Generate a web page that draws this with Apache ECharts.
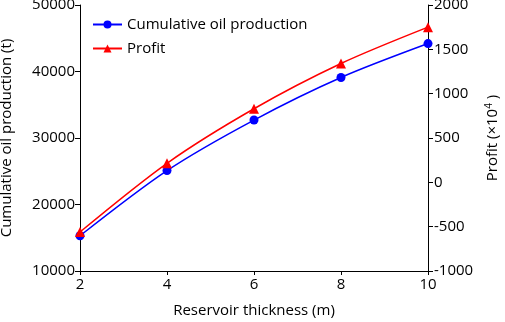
<!DOCTYPE html>
<html>
<head>
<meta charset="utf-8">
<script src="https://cdn.jsdelivr.net/npm/echarts@6/dist/echarts.min.js"></script>
<style>
  html, body { margin: 0; padding: 0; background: #fff; }
  #my-charts { width: 505px; height: 322px; }
</style>
</head>
<body>
<div id="my-charts"></div>
<script>
// data
var thickness = [2, 4, 6, 8, 10]
var oilProduction = [15300, 25100, 32700, 39100, 44200]
var profit = [-560, 215, 830, 1340, 1750]

var fontFamily = 'Open Sans'
var textColor = '#000'

// plain numbers, no thousands separator
var plain = function (v) { return String(v) }

var myChart = echarts.init(document.getElementById('my-charts'))

var option = {
  backgroundColor: '#fff',
  animation: false,
  textStyle: { fontFamily: fontFamily, color: textColor },
  grid: {
    left: 80,
    right: 77,
    top: 5,
    bottom: 51,
    outerBoundsMode: 'none',
    containLabel: false
  },
  legend: {
    orient: 'vertical',
    left: 87,
    top: 12,
    itemWidth: 29,
    itemHeight: 10,
    itemGap: 9,
    textStyle: { fontSize: 15, fontFamily: fontFamily, color: textColor },
    data: ['Cumulative oil production', 'Profit']
  },
  xAxis: {
    type: 'value',
    min: 2,
    max: 10,
    interval: 2,
    name: 'Reservoir thickness (m)',
    nameLocation: 'middle',
    nameGap: 32,
    nameTextStyle: { fontSize: 15, color: textColor },
    axisLine: { onZero: false, lineStyle: { color: '#000', width: 1 } },
    axisTick: { length: 4, lineStyle: { color: '#000' } },
    axisLabel: { fontSize: 15, color: textColor, margin: 6, formatter: plain },
    splitLine: { show: false }
  },
  yAxis: [
    {
      type: 'value',
      position: 'left',
      min: 10000,
      max: 50000,
      interval: 10000,
      name: 'Cumulative oil production (t)',
      nameLocation: 'middle',
      nameGap: 66,
      nameTextStyle: { fontSize: 15, color: textColor },
      axisLine: { show: true, onZero: false, lineStyle: { color: '#000', width: 1 } },
      axisTick: { show: true, length: 5, lineStyle: { color: '#000' } },
      axisLabel: { fontSize: 15, color: textColor, margin: 5, formatter: plain },
      splitLine: { show: false }
    },
    {
      type: 'value',
      position: 'right',
      min: -1000,
      max: 2000,
      interval: 500,
      name: 'Profit (×10{sup|4} )',
      nameLocation: 'middle',
      nameGap: 56,
      nameRotate: 90,
      nameTextStyle: {
        fontSize: 15,
        color: textColor,
        rich: {
          sup: { fontSize: 10, verticalAlign: 'top', padding: [0, 0, 8, 0], color: textColor }
        }
      },
      axisLine: { show: true, onZero: false, lineStyle: { color: '#000', width: 1 } },
      axisTick: { show: true, length: 5, lineStyle: { color: '#000' } },
      axisLabel: { fontSize: 15, color: textColor, margin: 6, formatter: plain },
      splitLine: { show: false }
    }
  ],
  series: [
    {
      name: 'Cumulative oil production',
      type: 'line',
      yAxisIndex: 0,
      smooth: 0.3,
      symbol: 'circle',
      symbolSize: 9,
      itemStyle: { color: '#0000ff' },
      lineStyle: { color: '#0000ff', width: 1.5 },
      data: thickness.map(function (x, i) { return [x, oilProduction[i]] })
    },
    {
      name: 'Profit',
      type: 'line',
      yAxisIndex: 1,
      smooth: 0.3,
      symbol: 'triangle',
      symbolSize: 10,
      itemStyle: { color: '#ff0000' },
      lineStyle: { color: '#ff0000', width: 1.5 },
      data: thickness.map(function (x, i) { return [x, profit[i]] })
    }
  ]
}

myChart.setOption(option)
myChart.resize()
</script>
</body>
</html>
